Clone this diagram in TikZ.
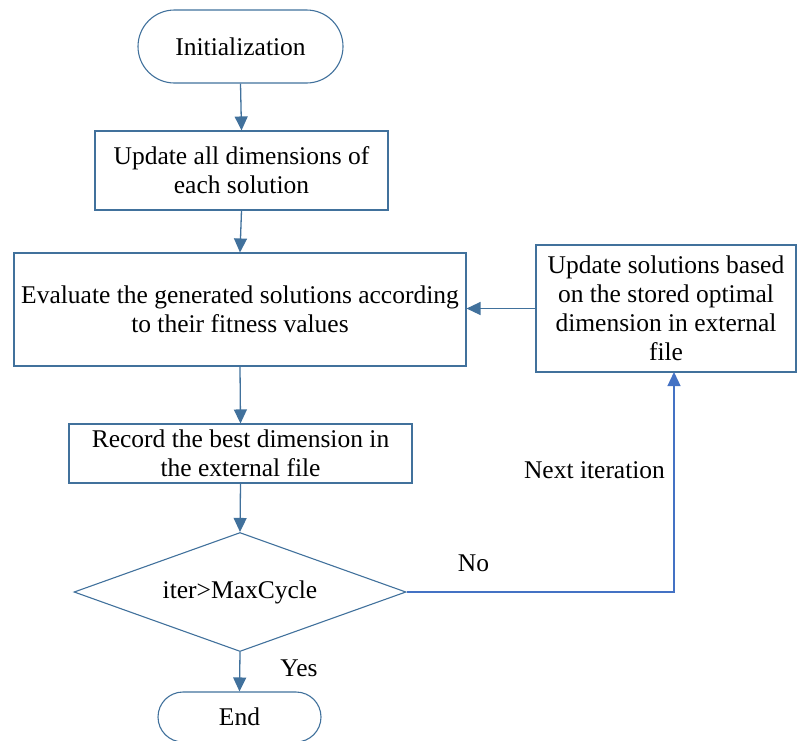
\documentclass[tikz,border=0pt]{standalone}
\usepackage{fontspec}
\setmainfont{Liberation Serif}
\usetikzlibrary{arrows.meta,shapes.geometric}
\definecolor{boxblue}{HTML}{41719C}
\definecolor{arrblue}{HTML}{4472C4}
\tikzset{
  base/.style={draw=boxblue,line width=1.1pt,align=center,inner sep=0pt,font=\fontsize{25.5}{29}\selectfont},
  procbox/.style={base,rectangle},
  termbox/.style={base,rectangle},
  decbox/.style={base,diamond,aspect=2.79},
  flow/.style={draw=boxblue,line width=1.3pt,-{Triangle[length=14pt,width=13pt]}},
  loopflow/.style={draw=arrblue,line width=1.3pt,-{Triangle[length=14pt,width=13pt]}},
  lbl/.style={font=\fontsize{25.5}{29}\selectfont,inner sep=0pt}
}
\begin{document}
\begin{tikzpicture}[x=1pt,y=-1pt]
\useasboundingbox (0,0) rectangle (797,740);
\node[termbox,rounded corners=36.5pt,minimum width=205pt,minimum height=73pt] (init) at (240.5,46.5) {Initialization};
\node[procbox,minimum width=293pt,minimum height=79pt] (upd) at (241.5,170.5) {Update all dimensions of\\each solution};
\node[procbox,minimum width=452pt,minimum height=113pt] (eval) at (240,309.5) {Evaluate the generated solutions according\\to their fitness values};
\node[procbox,minimum width=260pt,minimum height=127pt] (usol) at (666,308.5) {Update solutions based\\on the stored optimal\\dimension in external\\file};
\node[procbox,minimum width=343pt,minimum height=59pt] (rec) at (240.5,453.5) {Record the best dimension in\\the external file};
\node[decbox,minimum width=332pt,minimum height=119pt] (dec) at (240,592) {iter>MaxCycle};
\node[termbox,rounded corners=25pt,minimum width=163pt,minimum height=50pt] (fin) at (239.5,717) {End};
\coordinate (up) at (674,372);
\node[lbl] (no) at (473.5,563) {No};
\node[lbl] (yes) at (299,668) {Yes};
\node[lbl] (next) at (594.5,470) {Next iteration};
\draw[flow] (init.south) -- (upd.north);
\draw[flow] (upd.south) -- (eval.north);
\draw[flow] (eval.south) -- (rec.north);
\draw[flow] (rec.south) -- (dec.north);
\draw[flow] (dec.south) -- (fin.north);
\draw[flow] (usol.west) -- (eval.east |- usol.west);
\draw[loopflow] (dec.east) -| (up);
\end{tikzpicture}
\end{document}
